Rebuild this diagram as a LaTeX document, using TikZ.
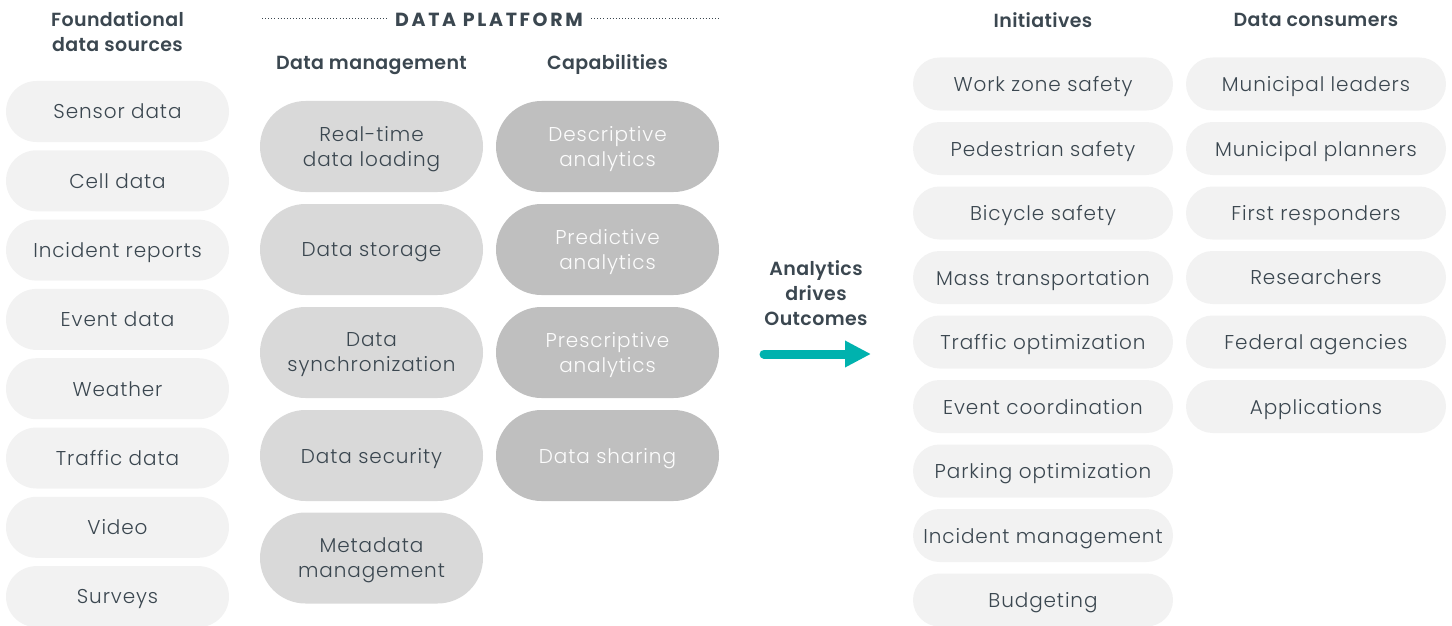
\documentclass[tikz,border=0pt]{standalone}
\usepackage{fontspec}
\setmainfont{Poppins}[UprightFont=* Light, BoldFont=* SemiBold, LetterSpace=4.5]
\newfontfamily\headfont{Poppins SemiBold}[LetterSpace=2]
\newfontfamily\platfont{Poppins Bold}[LetterSpace=14]
\usetikzlibrary{shapes.misc,arrows.meta}
\definecolor{txt}{HTML}{3B4750}
\definecolor{pillL}{HTML}{F2F2F2}
\definecolor{pillM}{HTML}{D9D9D9}
\definecolor{pillD}{HTML}{BFBFBF}
\definecolor{tealc}{HTML}{00B2AE}
\begin{document}
\begin{tikzpicture}[x=1pt,y=-1pt,
  body/.style={font=\fontsize{20}{25}\selectfont, align=center, inner sep=0pt, text depth=0pt, rounded rectangle},
  srcpill/.style={body, fill=pillL, text=txt, minimum width=223pt, minimum height=61pt},
  mgmtpill/.style={body, fill=pillM, text=txt, minimum width=223pt, minimum height=91pt},
  cappill/.style={body, fill=pillD, text=white!96!pillD, minimum width=223pt, minimum height=91pt},
  outpill/.style={body, fill=pillL, text=txt, minimum width=260pt, minimum height=53pt},
  head/.style={font=\headfont\fontsize{19}{25}\selectfont, align=center, text=txt, inner sep=0pt},
  dotline/.style={draw=txt, line width=1pt, dash pattern=on 1pt off 2.1pt}
]
\useasboundingbox (0,0) rectangle (1452,626);

% headers
\node[head] (hsrc) at (117.5,31.5) {Foundational\\data sources};
\node[head, font=\platfont\fontsize{19}{25}\selectfont] (hplat) at (489,19.5) {DATA PLATFORM};
\node[head, text depth=0pt] (hmgmt) at (371.5,62.5) {Data management};
\node[head, text depth=0pt] (hcap) at (607.5,62.5) {Capabilities};
\node[head] (hinit) at (1043,20) {Initiatives};
\node[head] (hcons) at (1316,20) {Data consumers};
\coordinate (dl1) at (262,19);
\coordinate (dl2) at (720,19);
\draw[dotline] (dl1) -- ([xshift=-8pt]hplat.west |- dl1);
\draw[dotline] ([xshift=8pt]hplat.east |- dl2) -- (dl2);

% foundational data sources
\node[srcpill] (s1) at (117.5,111.5) {Sensor data};
\node[srcpill] (s2) at (117.5,180.8) {Cell data};
\node[srcpill] (s3) at (117.5,250.1) {Incident reports};
\node[srcpill] (s4) at (117.5,319.4) {Event data};
\node[srcpill] (s5) at (117.5,388.7) {Weather};
\node[srcpill] (s6) at (117.5,458.0) {Traffic data};
\node[srcpill] (s7) at (117.5,527.3) {Video};
\node[srcpill] (s8) at (117.5,596.6) {Surveys};

% data management
\node[mgmtpill] (m1) at (371.5,146.5) {Real-time\\data loading};
\node[mgmtpill] (m2) at (371.5,249.5) {Data storage};
\node[mgmtpill] (m3) at (371.5,352.5) {Data\\synchronization};
\node[mgmtpill] (m4) at (371.5,455.5) {Data security};
\node[mgmtpill] (m5) at (371.5,558.0) {Metadata\\management};

% capabilities
\node[cappill] (c1) at (607.5,146.5) {Descriptive\\analytics};
\node[cappill] (c2) at (607.5,249.5) {Predictive\\analytics};
\node[cappill] (c3) at (607.5,352.5) {Prescriptive\\analytics};
\node[cappill] (c4) at (607.5,455.5) {Data sharing};

% analytics arrow
\node[head] (adrv) at (816,293) {Analytics\\drives\\Outcomes};
\coordinate (arS) at (764,354);
\coordinate (arE) at (871,354);
\draw[tealc, line width=9pt, line cap=round, -{Triangle[length=26pt,width=25pt]}] (arS) -- (arE);

% initiatives
\node[outpill] (i1) at (1043,84) {Work zone safety};
\node[outpill] (i2) at (1043,148.5) {Pedestrian safety};
\node[outpill] (i3) at (1043,213) {Bicycle safety};
\node[outpill] (i4) at (1043,277.5) {Mass transportation};
\node[outpill] (i5) at (1043,342) {Traffic optimization};
\node[outpill] (i6) at (1043,406.5) {Event coordination};
\node[outpill] (i7) at (1043,471) {Parking optimization};
\node[outpill] (i8) at (1043,535.5) {Incident management};
\node[outpill] (i9) at (1043,600) {Budgeting};

% data consumers
\node[outpill] (d1) at (1316,84) {Municipal leaders};
\node[outpill] (d2) at (1316,148.5) {Municipal planners};
\node[outpill] (d3) at (1316,213) {First responders};
\node[outpill] (d4) at (1316,277.5) {Researchers};
\node[outpill] (d5) at (1316,342) {Federal agencies};
\node[outpill] (d6) at (1316,406.5) {Applications};
\end{tikzpicture}
\end{document}
